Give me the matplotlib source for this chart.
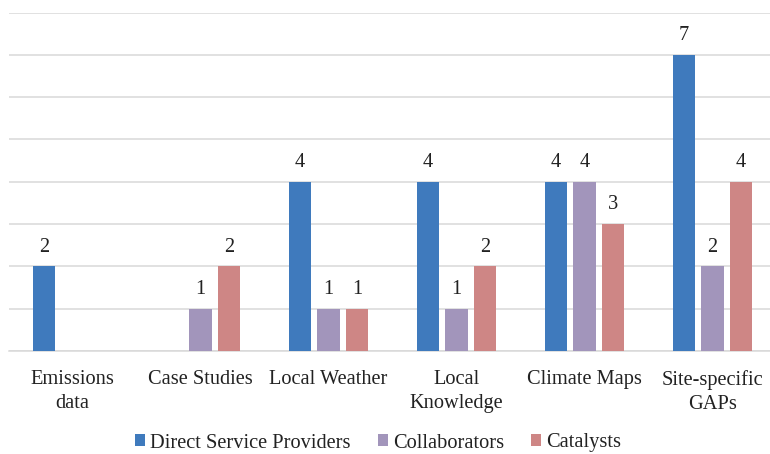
import numpy as np
import matplotlib.pyplot as plt

plt.rcParams['font.family'] = ['Liberation Serif', 'DejaVu Serif']

categories = ['Emissions\ndata', 'Case Studies', 'Local Weather', 'Local\nKnowledge',
              'Climate Maps', 'Site-specific\nGAPs']
series_names = ['Direct Service Providers', 'Collaborators', 'Catalysts']
direct = [2, 0, 4, 4, 4, 7]
collab = [0, 1, 1, 1, 4, 2]
catal = [0, 2, 1, 2, 3, 4]
colors = ['#3F7ABD', '#A295BB', '#CE8685']

fig = plt.figure(figsize=(7.7, 4.54), dpi=100)
ax = fig.add_axes([8.5 / 770, 103 / 454, 768 / 770, 338.5 / 454])

x = np.arange(len(categories))
bw = 0.176
pitch = 0.223
fs = 14.7
handles = []
for k, (vals, c) in enumerate(zip([direct, collab, catal], colors)):
    pos = x + (k - 1) * pitch
    b = ax.bar(pos, vals, width=bw, color=c, label=series_names[k], zorder=3)
    handles.append(b)
    for p, v in zip(pos, vals):
        if v > 0:
            ax.text(p, v + 0.23, str(v), ha='center', va='bottom', fontsize=fs, color='#222222')

ax.set_xlim(-0.5, len(categories) - 0.5)
ax.set_ylim(0, 8)
ax.set_yticks(range(0, 9))
ax.yaxis.grid(True, color='#D9D9D9', linewidth=1.1, zorder=0)
ax.tick_params(axis='y', left=False, labelleft=False)
ax.tick_params(axis='x', bottom=False, pad=10)
ax.set_xticks(x)
ax.set_xticklabels(categories, fontsize=fs, color='#222222', linespacing=1.36)
for s in ['top', 'right', 'left']:
    ax.spines[s].set_visible(False)
ax.spines['bottom'].set_color('#D9D9D9')
ax.spines['bottom'].set_linewidth(1.1)

# legend sits at the very bottom edge, as in the original
fig.legend(handles=handles, loc='center', bbox_to_anchor=(378 / 770, 1 - 443 / 454), ncol=3,
           frameon=False, fontsize=fs, handlelength=0.5, handleheight=0.5,
           handletextpad=0.25, columnspacing=1.3, labelcolor='#222222')

fig.savefig('out.png', dpi=100)
